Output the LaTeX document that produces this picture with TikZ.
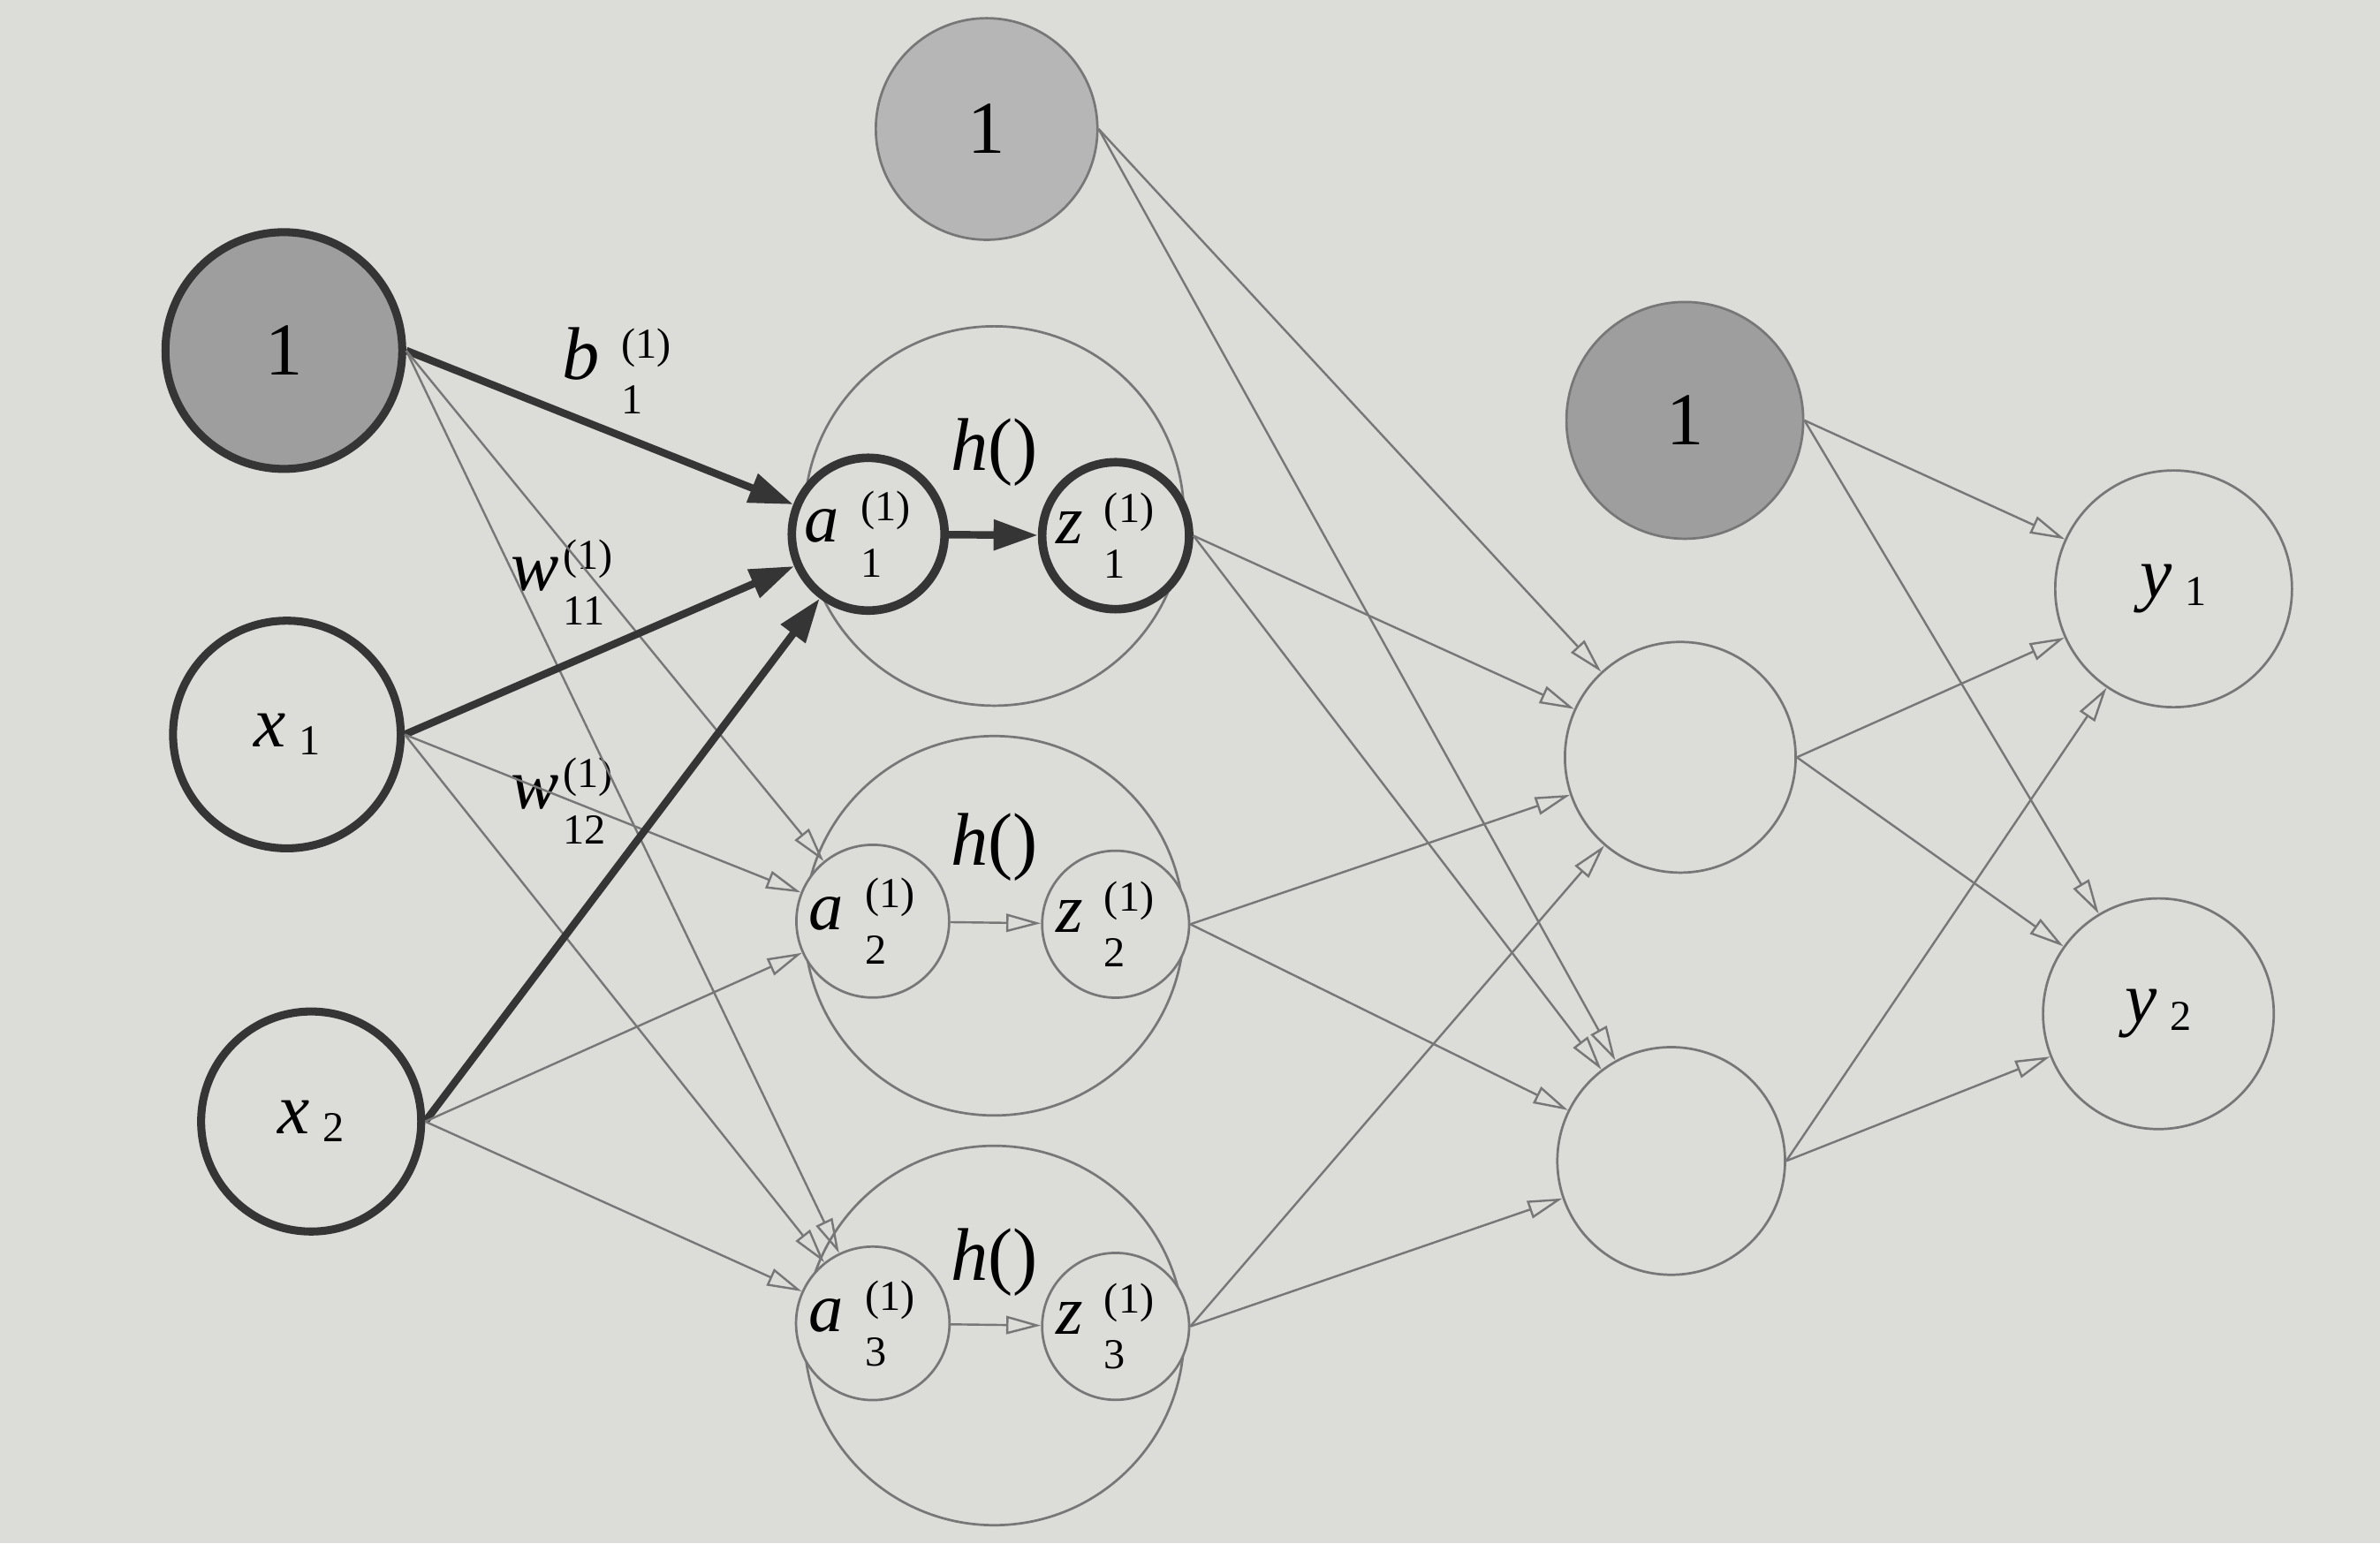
\documentclass[tikz,border=0pt]{standalone}
\usepackage{fontspec}
\setmainfont{Liberation Serif}
\usetikzlibrary{arrows.meta,positioning}
\definecolor{paper}{HTML}{DCDCD9}
\definecolor{ink}{HTML}{353535}
\definecolor{faint}{HTML}{777777}
\definecolor{shade}{HTML}{9E9E9E}
\definecolor{shadelt}{HTML}{B6B6B6}

% letter with stacked super/sub script
\newcommand{\nlab}[4][4pt]{\textit{#2}\hspace{#1}{\fontsize{8}{9}\selectfont\rlap{\raisebox{4pt}{#3}}\raisebox{-6.5pt}{#4}}\hphantom{\fontsize{8}{9}\selectfont #3}}
\newcommand{\xlab}[2]{\textit{#1}\hspace{2.5pt}{\fontsize{8}{10}\selectfont\raisebox{-1.5pt}{#2}}}

\begin{document}
\begin{tikzpicture}[
  inp/.style={circle, draw=ink, line width=1.5pt, fill=#1, inner sep=0pt},
  inp/.default=paper,
  unit/.style={circle, draw=faint, line width=0.45pt, fill=#1, inner sep=0pt},
  unit/.default=paper,
  hot/.style={draw=ink, line width=1.6pt},
  txt/.style={font=\fontsize{13}{15}\selectfont},
  vtxt/.style={font=\fontsize{13.5}{15}\selectfont},
  one/.style={font=\fontsize{14}{16}\selectfont},
  lab/.style={inner sep=0pt, anchor=base west, font=\fontsize{13.5}{15}\selectfont},
  sarr/.style={-{Triangle[length=8.3pt,width=5.5pt]}, ink, line width=1.4pt},
  warr/.style={-{Triangle[open,length=6.5pt,width=3.4pt]}, faint, line width=0.4pt}
]
  \fill[paper] (0,0) rectangle (15.68,-10.17);
  \useasboundingbox (0,0) rectangle (15.68,-10.17);

  % input layer
  \node[inp=shade, minimum size=1.56cm, one] (b0) at (1.87,-2.31) {1};
  \node[inp, minimum size=1.50cm, vtxt] (x1) at (1.89,-4.84) {\xlab{x}{1}};
  \node[inp, minimum size=1.45cm, vtxt] (x2) at (2.05,-7.39) {\xlab{x}{2}};

  % first layer
  \node[unit=shadelt, minimum size=1.46cm, one] (b1) at (6.50,-0.85) {1};
  \node[unit, minimum size=2.50cm] (g1) at (6.55,-3.40) {};
  \node[unit, minimum size=2.50cm] (g2) at (6.55,-6.10) {};
  \node[unit, minimum size=2.50cm] (g3) at (6.55,-8.80) {};
  \node[unit, hot, minimum size=0.84cm, txt] (a1) at (5.72,-3.52) {\nlab{a}{(1)}{1}};
  \node[unit, hot, minimum size=0.90cm, txt] (z1) at (7.35,-3.53) {\nlab{z}{(1)}{1}};
  \node[unit, minimum size=0.86cm, txt] (a2) at (5.75,-6.07) {\nlab{a}{(1)}{2}};
  \node[unit, minimum size=0.90cm, txt] (z2) at (7.35,-6.09) {\nlab{z}{(1)}{2}};
  \node[unit, minimum size=0.86cm, txt] (a3) at (5.75,-8.72) {\nlab{a}{(1)}{3}};
  \node[unit, minimum size=0.90cm, txt] (z3) at (7.35,-8.74) {\nlab{z}{(1)}{3}};
  \node[one] (h1) at (6.55,-2.98) {\textit{h}()};
  \node[one] (h2) at (6.55,-5.58) {\textit{h}()};
  \node[one] (h3) at (6.55,-8.32) {\textit{h}()};

  % second layer
  \node[unit=shade, minimum size=1.56cm, one] (b2) at (11.10,-2.77) {1};
  \node[unit, minimum size=1.52cm] (n1) at (11.07,-4.99) {};
  \node[unit, minimum size=1.50cm] (n2) at (11.01,-7.65) {};

  % output layer
  \node[unit, minimum size=1.56cm, vtxt] (y1) at (14.32,-3.88) {\xlab{y}{1}};
  \node[unit, minimum size=1.52cm, vtxt] (y2) at (14.22,-6.68) {\xlab{y}{2}};

  % weight labels
  \node[lab, font=\fontsize{14}{16}\selectfont] (lb) at (3.70,-2.50) {\nlab{b}{(1)}{1}};
  \node[lab] (lw1) at (3.36,-3.89) {\nlab[0.8pt]{w}{(1)}{11}};
  \node[lab] (lw2) at (3.36,-5.33) {\nlab[0.8pt]{w}{(1)}{12}};

  % connections
  \foreach \s in {b0,x1,x2}{
    \draw[sarr] (\s.east) -- (a1);
    \foreach \t in {a2,a3}{
      \draw[warr] (\s.east) -- (\t);
    }
  }
  \draw[sarr] (a1) -- (z1);
  \draw[warr] (a2) -- (z2);
  \draw[warr] (a3) -- (z3);
  \foreach \s in {b1,z1,z2,z3}{
    \foreach \t in {n1,n2}{
      \draw[warr] (\s.east) -- (\t);
    }
  }
  \foreach \s in {b2,n1,n2}{
    \foreach \t in {y1,y2}{
      \draw[warr] (\s.east) -- (\t);
    }
  }
\end{tikzpicture}
\end{document}
